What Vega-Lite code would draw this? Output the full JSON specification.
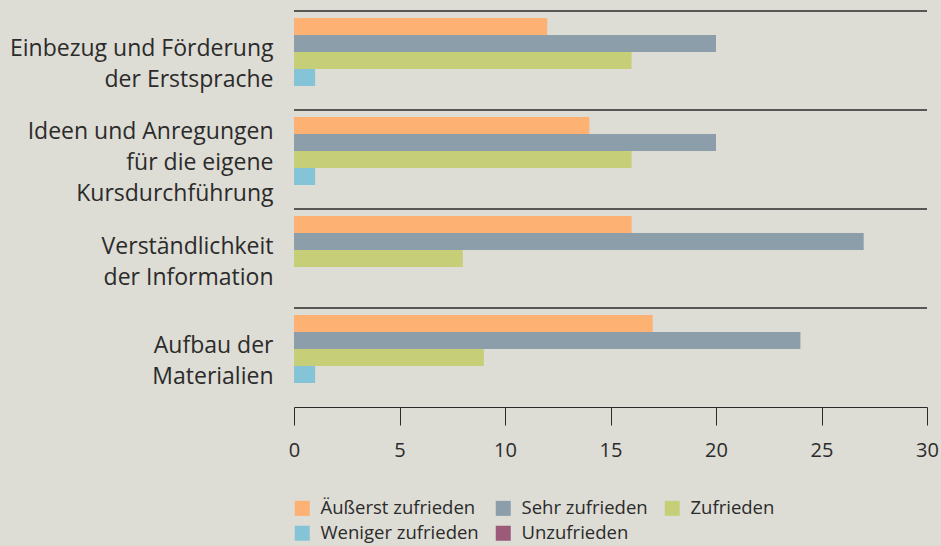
{
  "$schema": "https://vega.github.io/schema/vega-lite/v6.json",
  "width": 633,
  "height": 396,
  "autosize": {"type": "none"},
  "padding": {"left": 294, "top": 11, "right": 14, "bottom": 139},
  "background": "#dddcd5",
  "config": {
    "view": {"stroke": null},
    "font": "Open Sans",
    "axis": {"labelFont": "Open Sans", "labelColor": "#2b2b2b"},
    "legend": {"labelFont": "Open Sans", "labelColor": "#2b2b2b"}
  },
  "datasets": {
    "bars": [
      {"cat": "Einbezug und Förderung|der Erstsprache", "series": "Äußerst zufrieden", "value": 12},
      {"cat": "Einbezug und Förderung|der Erstsprache", "series": "Sehr zufrieden", "value": 20},
      {"cat": "Einbezug und Förderung|der Erstsprache", "series": "Zufrieden", "value": 16},
      {"cat": "Einbezug und Förderung|der Erstsprache", "series": "Weniger zufrieden", "value": 1},
      {"cat": "Einbezug und Förderung|der Erstsprache", "series": "Unzufrieden", "value": 0},
      {"cat": "Ideen und Anregungen|für die eigene|Kursdurchführung", "series": "Äußerst zufrieden", "value": 14},
      {"cat": "Ideen und Anregungen|für die eigene|Kursdurchführung", "series": "Sehr zufrieden", "value": 20},
      {"cat": "Ideen und Anregungen|für die eigene|Kursdurchführung", "series": "Zufrieden", "value": 16},
      {"cat": "Ideen und Anregungen|für die eigene|Kursdurchführung", "series": "Weniger zufrieden", "value": 1},
      {"cat": "Ideen und Anregungen|für die eigene|Kursdurchführung", "series": "Unzufrieden", "value": 0},
      {"cat": "Verständlichkeit|der Information", "series": "Äußerst zufrieden", "value": 16},
      {"cat": "Verständlichkeit|der Information", "series": "Sehr zufrieden", "value": 27},
      {"cat": "Verständlichkeit|der Information", "series": "Zufrieden", "value": 8},
      {"cat": "Verständlichkeit|der Information", "series": "Weniger zufrieden", "value": 0},
      {"cat": "Verständlichkeit|der Information", "series": "Unzufrieden", "value": 0},
      {"cat": "Aufbau der|Materialien", "series": "Äußerst zufrieden", "value": 17},
      {"cat": "Aufbau der|Materialien", "series": "Sehr zufrieden", "value": 24},
      {"cat": "Aufbau der|Materialien", "series": "Zufrieden", "value": 9},
      {"cat": "Aufbau der|Materialien", "series": "Weniger zufrieden", "value": 1},
      {"cat": "Aufbau der|Materialien", "series": "Unzufrieden", "value": 0}
    ],
    "groups": [
      {"cat": "Einbezug und Förderung|der Erstsprache"},
      {"cat": "Ideen und Anregungen|für die eigene|Kursdurchführung"},
      {"cat": "Verständlichkeit|der Information"},
      {"cat": "Aufbau der|Materialien"}
    ]
  },
  "encoding": {
    "y": {
      "field": "cat", "type": "nominal",
      "scale": {
        "domain": ["Einbezug und Förderung|der Erstsprache", "Ideen und Anregungen|für die eigene|Kursdurchführung", "Verständlichkeit|der Information", "Aufbau der|Materialien"],
        "paddingInner": 0, "paddingOuter": 0
      },
      "axis": {
        "title": null, "ticks": false, "domain": false,
        "labelExpr": "split(datum.label, '|')",
        "labelFontSize": 23, "labelLineHeight": 31, "labelPadding": 21,
        "labelLimit": 300,
        "labelOffset": {"condition": {"test": "indexof(datum.value, 'Kursdurch') >= 0", "value": -28}, "value": -12}
      }
    }
  },
  "layer": [
    {
      "data": {"name": "bars"},
      "mark": {"type": "bar"},
      "encoding": {
        "yOffset": {
          "field": "series", "type": "nominal",
          "scale": {
            "domain": ["Äußerst zufrieden", "Sehr zufrieden", "Zufrieden", "Weniger zufrieden", "Unzufrieden"],
            "paddingInner": 0, "paddingOuter": 0.41
          }
        },
        "x": {
          "field": "value", "type": "quantitative",
          "scale": {"domain": [0, 30], "nice": false},
          "axis": {
            "title": null, "grid": false, "values": [0, 5, 10, 15, 20, 25, 30],
            "labelFontSize": 20, "tickSize": 18, "labelPadding": 15,
            "domainColor": "#2b2b2b", "tickColor": "#2b2b2b", "labelFlush": false
          }
        },
        "color": {
          "field": "series", "type": "nominal",
          "scale": {
            "domain": ["Äußerst zufrieden", "Sehr zufrieden", "Zufrieden", "Weniger zufrieden", "Unzufrieden"],
            "range": ["#fdb173", "#8c9eaa", "#c6cf78", "#85c3d6", "#9b5a78"]
          },
          "legend": {
            "title": null, "orient": "none", "legendX": -1, "legendY": 488,
            "direction": "horizontal", "columns": 3,
            "symbolType": "square", "symbolSize": 225, "symbolOpacity": 1,
            "symbolStrokeWidth": 0,
            "labelFontSize": 18.5, "labelOffset": 9, "columnPadding": 15, "rowPadding": 6
          }
        }
      }
    },
    {
      "data": {"name": "groups"},
      "mark": {"type": "rule", "color": "#2b2b2b", "strokeWidth": 1.5},
      "encoding": {
        "y": {"field": "cat", "type": "nominal", "bandPosition": 0}
      }
    }
  ]
}
